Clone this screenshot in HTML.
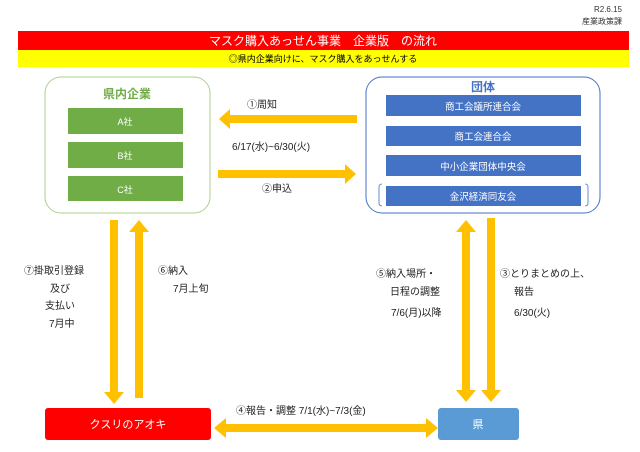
<!DOCTYPE html>
<html><head><meta charset="utf-8"><style>
body{margin:0;width:640px;height:452px;background:#fff;overflow:hidden;font-family:"Liberation Sans","Noto Sans CJK JP",sans-serif;}
svg{position:absolute;left:0;top:0}
</style></head><body>
<svg width="640" height="452" viewBox="0 0 640 452" font-family="Liberation Sans, Noto Sans CJK JP, sans-serif">
<text x="622" y="12" font-size="8" text-anchor="end" fill="#333">R2.6.15</text>
<text x="622" y="24" font-size="8" text-anchor="end" fill="#333">産業政策課</text>
<rect x="18" y="31" width="611" height="19" fill="#ff0000"/>
<text x="323" y="45" font-size="12" fill="#fff" text-anchor="middle">マスク購入あっせん事業　企業版　の流れ</text>
<rect x="18" y="50" width="611" height="17" fill="#ffff00"/>
<text x="323" y="62" font-size="9" fill="#000" text-anchor="middle">◎県内企業向けに、マスク購入をあっせんする</text>

<rect x="45" y="77" width="165" height="136" rx="16" fill="#fff" stroke="#a9d18e" stroke-width="1"/>
<text x="127" y="98" font-size="12" fill="#70ad47" text-anchor="middle" font-weight="bold">県内企業</text>
<rect x="68" y="108" width="115" height="26" fill="#70ad47"/>
<text x="125" y="125" font-size="9" fill="#fff" text-anchor="middle">A社</text>
<rect x="68" y="142" width="115" height="26" fill="#70ad47"/>
<text x="125" y="159" font-size="9" fill="#fff" text-anchor="middle">B社</text>
<rect x="68" y="176" width="115" height="25" fill="#70ad47"/>
<text x="125" y="193" font-size="9" fill="#fff" text-anchor="middle">C社</text>

<rect x="366" y="77" width="234" height="136" rx="16" fill="#fff" stroke="#4472c4" stroke-width="1"/>
<text x="483" y="91" font-size="12" fill="#4472c4" text-anchor="middle" font-weight="bold">団体</text>
<rect x="386" y="95" width="195" height="21" fill="#4472c4"/>
<text x="483" y="110" font-size="9.5" fill="#fff" text-anchor="middle">商工会議所連合会</text>
<rect x="386" y="126" width="195" height="20" fill="#4472c4"/>
<text x="483" y="140" font-size="9.5" fill="#fff" text-anchor="middle">商工会連合会</text>
<rect x="386" y="155" width="195" height="21" fill="#4472c4"/>
<text x="483" y="170" font-size="9.5" fill="#fff" text-anchor="middle">中小企業団体中央会</text>
<rect x="386" y="186" width="195" height="20" fill="#4472c4"/>
<text x="483" y="200" font-size="9.5" fill="#fff" text-anchor="middle">金沢経済同友会</text>
<path d="M382 184 q-3 0 -3 3 v16 q0 3 3 3 M585 184 q3 0 3 3 v16 q0 3 -3 3" fill="none" stroke="#4472c4" stroke-width="0.8"/>

<g fill="#ffc000">
<polygon points="357,142 230,142 230,136 219,146 230,156 230,150 357,150" transform="translate(0,-27)"/>
<polygon points="218,172 345,172 345,166 356,176 345,186 345,180 218,180" transform="translate(0,-2)"/>
<polygon points="110,220 118,220 118,392 124,392 114,404 104,392 110,392"/>
<polygon points="135,398 143,398 143,232 149,232 139,220 129,232 135,232"/>
<polygon points="462,232 456,232 466,220 476,232 470,232 470,390 476,390 466,402 456,390 462,390"/>
<polygon points="487,218 495,218 495,390 501,390 491,402 481,390 487,390"/>
<polygon points="226,424 226,418 214,428 226,438 226,432 426,432 426,438 438,428 426,418 426,424"/>
</g>

<g font-size="10" fill="#222">
<text x="247" y="108">①周知</text>
<text x="232" y="150">6/17(水)~6/30(火)</text>
<text x="262" y="192">②申込</text>
<text x="24" y="274">⑦掛取引登録</text>
<text x="50" y="292">及び</text>
<text x="45" y="309">支払い</text>
<text x="49" y="327">7月中</text>
<text x="158" y="274">⑥納入</text>
<text x="173" y="292">7月上旬</text>
<text x="376" y="277">⑤納入場所・</text>
<text x="390" y="295">日程の調整</text>
<text x="391" y="316">7/6(月)以降</text>
<text x="500" y="277">③とりまとめの上、</text>
<text x="514" y="295">報告</text>
<text x="514" y="316">6/30(火)</text>
<text x="236" y="414">④報告・調整  7/1(水)~7/3(金)</text>
</g>

<rect x="45" y="408" width="166" height="32" rx="3" fill="#ff0000"/>
<text x="128" y="428" font-size="11" fill="#fff" text-anchor="middle">クスリのアオキ</text>
<rect x="438" y="408" width="81" height="32" rx="3" fill="#5b9bd5"/>
<text x="478" y="428" font-size="11" fill="#fff" text-anchor="middle">県</text>
</svg>
</body></html>
